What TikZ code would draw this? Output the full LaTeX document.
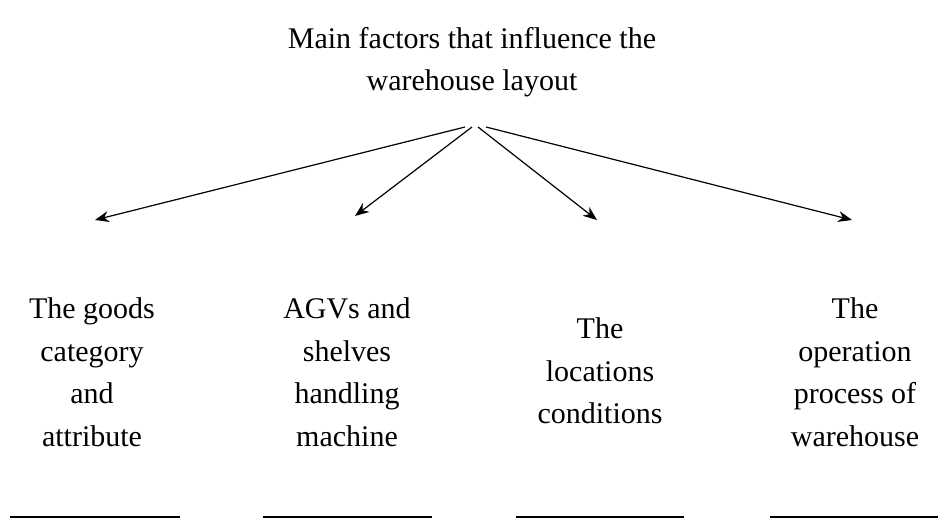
\documentclass[tikz,border=0pt]{standalone}
\usepackage{fontspec}
\setmainfont{Liberation Serif}
\usetikzlibrary{arrows.meta}
\begin{document}
\begin{tikzpicture}[x=1pt,y=-1pt,
  txt/.style={font=\fontsize{30}{42.5}\selectfont,align=center,inner sep=0pt},
  arr/.style={line width=1.2pt,-{Stealth[length=14pt,width=11pt]}},
  rule/.style={line width=1.2pt}]
\useasboundingbox (0,0) rectangle (945,519);
\node[txt] (title) at (472,62) {Main factors that influence the\\warehouse layout};
\coordinate (s1) at (465,127);
\coordinate (s2) at (472,127);
\coordinate (s3) at (478,127);
\coordinate (s4) at (486,127);
\coordinate (e1) at (95,220);
\coordinate (e2) at (355,216);
\coordinate (e3) at (597,220);
\coordinate (e4) at (852,220);
\draw[arr] (s1) -- (e1);
\draw[arr] (s2) -- (e2);
\draw[arr] (s3) -- (e3);
\draw[arr] (s4) -- (e4);
\node[txt] (c1) at (92,372) {The goods\\category\\and\\attribute};
\node[txt] (c2) at (347,372) {AGVs and\\shelves\\handling\\machine};
\node[txt] (c3) at (600,371) {The\\locations\\conditions};
\node[txt] (c4) at (855,372) {The\\operation\\process of\\warehouse};
\coordinate (l1a) at (10,517); \coordinate (l1b) at (180,517);
\coordinate (l2a) at (263,517); \coordinate (l2b) at (432,517);
\coordinate (l3a) at (516,517); \coordinate (l3b) at (684,517);
\coordinate (l4a) at (770,517); \coordinate (l4b) at (938,517);
\draw[rule] (l1a) -- (l1b);
\draw[rule] (l2a) -- (l2b);
\draw[rule] (l3a) -- (l3b);
\draw[rule] (l4a) -- (l4b);
\end{tikzpicture}
\end{document}
